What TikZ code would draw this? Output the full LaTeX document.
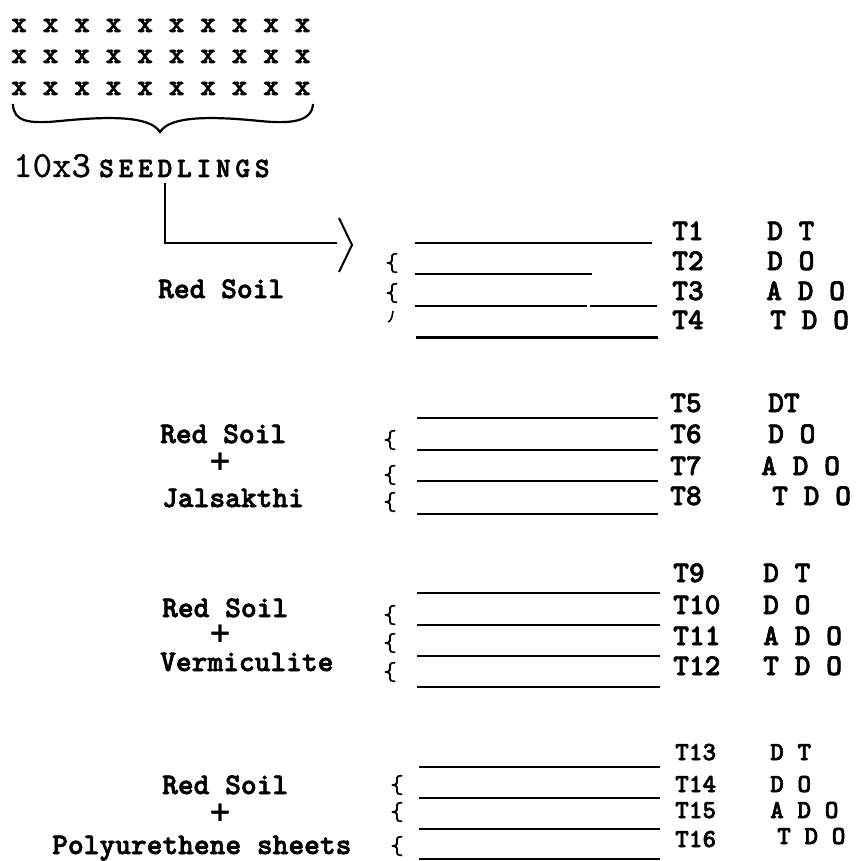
\documentclass[tikz,border=0pt]{standalone}
\usepackage{fontspec}
\newfontfamily\lmb[Extension=.otf, FakeBold=2.2]{lmmonolt10-bold}
\newfontfamily\lmbsp[Extension=.otf, LetterSpace=17, FakeBold=2.2]{lmmonolt10-bold}
\newfontfamily\lmr[Extension=.otf, FakeBold=0.6]{lmmono10-regular}
\newfontfamily\djb{DejaVu Sans}
\tikzset{
  lbl/.style={anchor=base west, inner sep=0pt, font=\lmb\fontsize{30}{32}\selectfont},
  lbs/.style={anchor=base west, inner sep=0pt, font=\lmb\fontsize{26}{28}\selectfont},
  brc/.style={anchor=center, inner sep=0pt, font=\lmr\fontsize{26}{28}\selectfont},
  pls/.style={anchor=center, inner sep=0pt, font=\djb\bfseries\fontsize{28}{30}\selectfont},
  rule/.style={line width=2pt},
}
\begin{document}
\begin{tikzpicture}[x=1pt,y=-1pt]
\useasboundingbox (0,0) rectangle (860,861);
% seedlings
\node[lbl] (r1) at (11,32) {x x x x x x x x x x};
\node[lbl] (r2) at (11,63) {x x x x x x x x x x};
\node[lbl] (r3) at (11,95) {x x x x x x x x x x};
\draw[line width=2.2pt] (13,104) .. controls (13,122) and (30,124) .. (60,121)
  .. controls (110,116) and (150,116) .. (160,132)
  .. controls (170,116) and (210,116) .. (260,121)
  .. controls (290,124) and (312,122) .. (313,104);
\node[anchor=base west, inner sep=0pt, font=\lmr\fontsize{37}{39}\selectfont] (num) at (13,177) {10x3};
\node[anchor=base west, inner sep=0pt, font=\lmbsp\fontsize{28}{30}\selectfont] (seed) at (99,177) {SEEDLINGS};
\coordinate (stem) at (165,183);
\coordinate (bend) at (165,243);
\coordinate (arrend) at (337,243);
\draw[rule] (stem) -- (bend) -- (arrend);
\draw[rule] (339,218) -- (352,245) -- (339,272);
% group 1
\node[lbl] (s1) at (158,298) {Red Soil};
\node[brc] (b1a) at (392,263) {\{};
\node[brc] (b1b) at (392,293) {\{};
\draw[line width=1.6pt] (393,311) .. controls (392,318) and (391,321) .. (388,322);
\draw[rule] (415,243) -- (652,243);
\draw[rule] (415,274) -- (592,274);
\draw[rule] (415,306) -- (587,306);
\draw[rule] (590,306) -- (657,306);
\draw[line width=3pt] (416,337) -- (658,337);
\node[lbl] (t1) at (672,240) {T1};
\node[lbl] (t2) at (672,270) {T2};
\node[lbl] (t3) at (672,300) {T3};
\node[lbl] (t4) at (672,329) {T4};
\node[lbl] (c1) at (767,240) {D T};
\node[lbl] (c2) at (767,270) {D O};
\node[lbl] (c3) at (766,300) {A D O};
\node[lbl] (c4) at (770,329) {T D O};
% group 2
\node[lbl] (s2) at (160,443) {Red Soil};
\node[pls] (p2) at (220,462) {+};
\node[lbl] (m2) at (162,507) {Jalsakthi};
\node[brc] (b2a) at (390,440) {\{};
\node[brc] (b2b) at (390,475) {\{};
\node[brc] (b2c) at (390,502) {\{};
\draw[rule] (417,418) -- (658,418);
\draw[rule] (417,450) -- (658,450);
\draw[rule] (417,481) -- (658,481);
\draw[rule] (417,514) -- (658,514);
\node[lbl] (t5) at (670,412) {T5};
\node[lbl] (t6) at (670,443) {T6};
\node[lbl] (t7) at (670,475) {T7};
\node[lbl] (t8) at (670,505) {T8};
\node[lbl] (c5) at (768,412) {DT};
\node[lbl] (c6) at (768,443) {D O};
\node[lbl] (c7) at (761,475) {A D O};
\node[lbl] (c8) at (772,505) {T D O};
% group 3
\node[lbl] (s3) at (162,617) {Red Soil};
\node[pls] (p3) at (220,634) {+};
\node[lbl] (m3) at (160,671) {Vermiculite};
\node[brc] (b3a) at (390,615) {\{};
\node[brc] (b3b) at (390,643) {\{};
\node[brc] (b3c) at (390,672) {\{};
\draw[rule] (417,593) -- (660,593);
\draw[rule] (417,625) -- (660,625);
\draw[rule] (417,656) -- (660,656);
\draw[rule] (417,687) -- (660,687);
\node[lbl] (t9) at (673,582) {T9};
\node[lbl] (t10) at (673,614) {T10};
\node[lbl] (t11) at (673,645) {T11};
\node[lbl] (t12) at (673,675) {T12};
\node[lbl] (c9) at (763,582) {D T};
\node[lbl] (c10) at (763,614) {D O};
\node[lbl] (c11) at (763,645) {A D O};
\node[lbl] (c12) at (763,675) {T D O};
% group 4
\node[lbl] (s4) at (162,794) {Red Soil};
\node[pls] (p4) at (220,813) {+};
\node[lbl] (m4) at (52,854) {Polyurethene sheets};
\node[brc] (b4a) at (397,785) {\{};
\node[brc] (b4b) at (397,812) {\{};
\node[brc] (b4c) at (397,846) {\{};
\draw[rule] (419,767) -- (660,767);
\draw[rule] (419,798) -- (660,798);
\draw[rule] (419,829) -- (660,829);
\draw[rule] (419,859) -- (660,859);
\node[lbs] (t13) at (675,760) {T13};
\node[lbs] (t14) at (675,792) {T14};
\node[lbs] (t15) at (675,818) {T15};
\node[lbs] (t16) at (675,847) {T16};
\node[lbs] (c13) at (770,760) {D T};
\node[lbs] (c14) at (770,792) {D O};
\node[lbs] (c15) at (770,818) {A D O};
\node[lbs] (c16) at (777,844) {T D O};
\end{tikzpicture}
\end{document}
